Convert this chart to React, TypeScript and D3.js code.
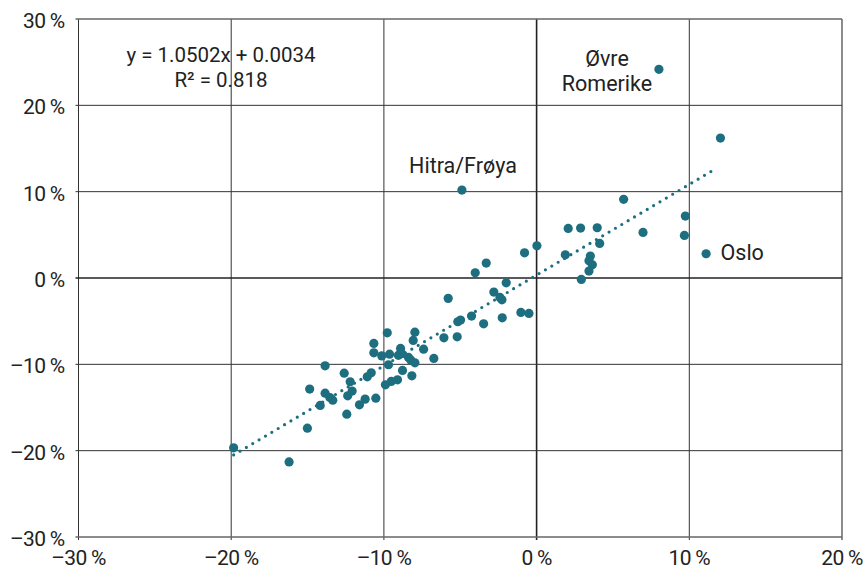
import React from "react";
import * as d3 from "d3";

const W = 866;
const H = 569;

// x = change A (%), y = change B (%)
const pointsX = [
  8.01, 12.04, -4.89, 5.7, 9.74, 9.68, 6.97, 11.1, 2.07, 2.88, 3.97, 4.13, 1.88, 3.52, 3.43, 3.65, 3.43, 2.93,
  0.02, -0.79, -3.3, -4.02, -1.99, -2.8, -5.79, -2.27, -2.4, -1.03, -0.5, -4.26, -2.25, -3.47, -4.98, -5.16,
  -9.78, -7.97, -10.66, -8.08, -5.2, -6.07, -7.4, -6.73, -8.91, -10.66, -10.14, -9.63, -9.05, -8.83, -8.39,
  -8.24, -7.97, -9.7, -8.78, -8.17, -9.11, -9.52, -9.9, -13.85, -12.6, -12.21, -12.08, -12.37, -11.23, -10.53,
  -11.6, -12.43, -14.86, -13.85, -13.54, -13.35, -14.17, -15.01, -19.84, -16.21, -11.09, -10.83,
];
const pointsY = [
  24.17, 16.21, 10.19, 9.11, 7.17, 4.93, 5.28, 2.81, 5.74, 5.78, 5.82, 4.01, 2.69, 2.54, 1.99, 1.53, 0.8, -0.16,
  3.73, 2.92, 1.73, 0.6, -0.56, -1.63, -2.36, -2.53, -2.25, -3.99, -4.1, -4.41, -4.61, -5.31, -4.87, -5.07,
  -6.35, -6.27, -7.58, -7.23, -6.81, -6.93, -8.24, -9.32, -8.16, -8.67, -9.02, -8.82, -8.96, -8.77, -9.2,
  -9.51, -9.83, -10.05, -10.71, -11.33, -11.79, -11.98, -12.37, -10.17, -11.02, -12.02, -13.1, -13.65, -14.03, -13.92,
  -14.69, -15.77, -12.87, -13.34, -13.84, -14.15, -14.76, -17.39, -19.67, -21.3, -11.45, -10.98,
];

const xTicks = [-30, -20, -10, 0, 10, 20];
const yTicks = [-30, -20, -10, 0, 10, 20, 30];

const trendSlope = 1.0502;
const trendIntercept = 0.34; // in %
const trendRange = [-19.84, 11.8];
const equationLines = ["y = 1.0502x + 0.0034", "R² = 0.818"];

const labelNames = ["Øvre", "Romerike", "Hitra/Frøya", "Oslo"];

const fmt = (v: number) => (v < 0 ? "–" + Math.abs(v) : String(v)) + " %";

export default function App() {
  const left = 78.5,
    right = 842,
    top = 19,
    bottom = 537;
  const x = d3.scaleLinear().domain([-30, 20]).range([left, right]);
  const y = d3.scaleLinear().domain([-30, 30]).range([bottom, top]);
  const color = "#1d6f80";
  const font = "Roboto, 'Open Sans', sans-serif";
  const txt = "#222";

  const trend = d3.line<number>()
    .x((v) => x(v))
    .y((v) => y(trendSlope * v + trendIntercept));

  return (
    <svg
      width={W}
      height={H}
      style={{ position: "absolute", left: 0, top: 0, background: "#fff" }}
      fontFamily={font}
    >
      {/* grid */}
      {xTicks.map((t) => (
        <line
          key={"gx" + t}
          x1={x(t)}
          x2={x(t)}
          y1={top}
          y2={bottom + 3}
          stroke={t === 0 ? "#222" : t === 20 ? "#666" : "#333"}
          strokeWidth={t === 0 ? 1.6 : t === 20 ? 1.5 : 1}
        />
      ))}
      {yTicks.map((t) => (
        <line
          key={"gy" + t}
          x1={left - 3}
          x2={right}
          y1={y(t)}
          y2={y(t)}
          stroke={t === 0 ? "#222" : t === 30 || t === -30 ? "#666" : "#333"}
          strokeWidth={t === 0 ? 1.6 : t === 30 || t === -30 ? 1.5 : 1}
        />
      ))}
      {/* tick labels */}
      {yTicks.map((t) => (
        <text
          key={"ly" + t}
          x={64.5}
          y={y(t) + 9}
          textAnchor="end"
          fontSize={21}
          fill={txt}
          letterSpacing={-0.7}
        >
          {fmt(t)}
        </text>
      ))}
      {xTicks.map((t) => (
        <text
          key={"lx" + t}
          x={x(t)}
          y={565}
          textAnchor="middle"
          fontSize={21}
          fill={txt}
          letterSpacing={-0.7}
        >
          {fmt(t)}
        </text>
      ))}
      {/* trendline */}
      <path
        d={trend(trendRange) || ""}
        fill="none"
        stroke={color}
        strokeWidth={3.2}
        strokeLinecap="round"
        strokeDasharray="0 7.4"
      />
      {/* points */}
      {pointsX.map((px, i) => (
        <circle key={i} cx={x(px)} cy={y(pointsY[i])} r={4.6} fill={color} />
      ))}
      {/* equation */}
      <text x={221} y={62} textAnchor="middle" fontSize={20.5} fill={txt}>
        {equationLines[0]}
      </text>
      <text x={221} y={87} textAnchor="middle" fontSize={20.5} fill={txt}>
        {equationLines[1]}
      </text>
      {/* point labels */}
      <text x={607} y={66} textAnchor="middle" fontSize={21.5} fill={txt}>
        {labelNames[0]}
      </text>
      <text x={607} y={91} textAnchor="middle" fontSize={21.5} fill={txt}>
        {labelNames[1]}
      </text>
      <text x={463} y={173} textAnchor="middle" fontSize={21.5} fill={txt}>
        {labelNames[2]}
      </text>
      <text x={720.5} y={260} textAnchor="start" fontSize={21.5} fill={txt}>
        {labelNames[3]}
      </text>
    </svg>
  );
}
